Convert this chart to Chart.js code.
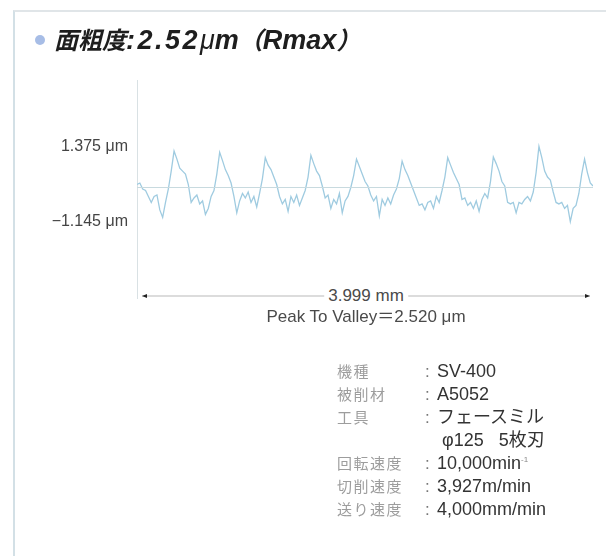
<!DOCTYPE html>
<html lang="ja">
<head>
<meta charset="utf-8">
<title>面粗度</title>
<script src="https://cdn.jsdelivr.net/npm/chart.js@4/dist/chart.umd.min.js"></script>
<style>
  html, body { margin: 0; padding: 0; background: #fff; }
  #wrap { position: relative; width: 606px; height: 556px; overflow: hidden; background: #fff; }
  #frame { position: absolute; left: 13px; top: 10px; right: -4px; bottom: -4px;
           border-top: 2px solid #e0e5e8; border-left: 2px solid #d3e0e6; }
  #chart { position: absolute; left: 0; top: 0; }
  #title { position: absolute; left: 35px; top: 21px; font-family: "Liberation Sans", "Noto Sans CJK JP", sans-serif;
           font-weight: bold; font-style: italic; font-size: 27px; color: #1e1e1e; white-space: nowrap; }
  #title .cjk { font-size: 24px; }
  #title .num { letter-spacing: 2.5px; }
  #title .dot { display: inline-block; width: 10px; height: 10px; border-radius: 50%; background: #a7bde6;
                margin-right: 9px; vertical-align: 4px; }
  .xlab { position: absolute; font-family: "Liberation Sans", "Noto Sans CJK JP", sans-serif; color: #4a4a4a;
          font-size: 17px; white-space: nowrap; transform: translateX(-50%); }
  #len { background: #fff; padding: 0 4px; }
  #spec { position: absolute; left: 337px; top: 360px; border-collapse: collapse;
          font-family: "Liberation Sans", "Noto Sans CJK JP", sans-serif; font-size: 18px; }
  #spec td { padding: 0; height: 23px; line-height: 23px; white-space: nowrap; }
  #spec td.k { color: #9d9d9d; width: 88px; font-family: "Noto Sans CJK JP", sans-serif; font-size: 15px;
               letter-spacing: 1.5px; vertical-align: top; line-height: 22px; }
  #spec td.c { color: #777; width: 12px; font-size: 17px; }
  #spec td.v { color: #333; }
  #spec sup { font-size: 8px; line-height: 0; vertical-align: 7px; color: #888; }
</style>
</head>
<body>
<div id="wrap">
  <div id="frame"></div>
  <canvas id="chart" width="606" height="556"></canvas>
  <div id="title"><span class="dot"></span><span class="cjk">面粗度</span><span class="num">:2.52</span><span style="font-weight:normal">μ</span>m<span class="cjk">（</span>Rmax<span class="cjk">）</span></div>
  <div class="xlab" id="len">3.999 mm</div>
  <div class="xlab" id="ptv">Peak To Valley＝2.520 μm</div>
  <table id="spec">
    <tr><td class="k">機種</td><td class="c">:</td><td class="v">SV-400</td></tr>
    <tr><td class="k">被削材</td><td class="c">:</td><td class="v">A5052</td></tr>
    <tr><td class="k">工具</td><td class="c">:</td><td class="v">フェースミル</td></tr>
    <tr><td class="k"></td><td class="c"></td><td class="v">&nbsp;φ125&nbsp;&nbsp;&nbsp;5枚刃</td></tr>
    <tr><td class="k">回転速度</td><td class="c">:</td><td class="v">10,000min<sup>-1</sup></td></tr>
    <tr><td class="k">切削速度</td><td class="c">:</td><td class="v">3,927m/min</td></tr>
    <tr><td class="k">送り速度</td><td class="c">:</td><td class="v">4,000mm/min</td></tr>
  </table>
</div>
<script>
// Surface profile, sampled every 0.025 mm along the evaluation length (μm)
const SAMPLE_STEP_MM = 0.025;
const EVAL_LENGTH_MM = 3.999;
const PROFILE_UM = [
  0.10, 0.15, -0.05, -0.10, -0.30, -0.50, -0.30, -0.25, -0.75, -1.00, -0.50, -0.05, 0.55,
  1.22, 0.95, 0.65, 0.55, 0.45, 0.10, -0.50, -0.35, -0.25, -0.55, -0.45, -0.90, -0.70, -0.30, -0.10, 0.45,
  1.18, 0.90, 0.60, 0.40, 0.15, -0.30, -0.85, -0.45, -0.20, -0.35, -0.15, -0.50, -0.30, -0.65, -0.20, 0.30,
  1.00, 0.75, 0.60, 0.35, 0.10, -0.30, -0.55, -0.40, -0.80, -0.30, -0.50, -0.25, -0.60, -0.35, -0.10, 0.35,
  1.08, 0.80, 0.55, 0.40, 0.05, -0.35, -0.25, -0.70, -0.40, -0.55, -0.20, -0.85, -0.45, -0.30, 0.00, 0.40,
  0.95, 0.70, 0.45, 0.20, 0.05, -0.25, -0.45, -0.30, -0.95, -0.40, -0.60, -0.35, -0.55, -0.25, -0.05, 0.30,
  0.88, 0.60, 0.40, 0.15, -0.10, -0.35, -0.60, -0.55, -0.75, -0.50, -0.45, -0.70, -0.30, -0.50, -0.10, 0.35,
  1.00, 0.75, 0.50, 0.30, 0.10, -0.40, -0.35, -0.60, -0.50, -0.70, -0.45, -0.80, -0.40, -0.20, -0.35, 0.20,
  1.02, 0.80, 0.55, 0.20, 0.05, -0.50, -0.55, -0.50, -0.85, -0.50, -0.55, -0.40, -0.30, -0.45, -0.15, 0.50,
  1.375, 1.00, 0.55, 0.35, 0.25, -0.15, -0.50, -0.55, -0.50, -0.70, -0.60, -1.145, -0.70, -0.60, -0.20, 0.45,
  0.95, 0.50, 0.15
];
const PROFILE_END_UM = 0.05;
// Marked levels on the vertical axis: highest peak and deepest valley (μm)
const Y_TICKS = [1.375, -1.145];

const profile = PROFILE_UM.map((v, i) => ({ x: +(i * SAMPLE_STEP_MM).toFixed(3), y: v }));
profile.push({ x: EVAL_LENGTH_MM, y: PROFILE_END_UM });
const meanLine = [{ x: 0, y: 0 }, { x: EVAL_LENGTH_MM, y: 0 }];

const fmt = v => (v < 0 ? '\u2212' + Math.abs(v).toFixed(3) : v.toFixed(3)) + ' μm';

// Dimension arrow spanning the evaluation length under the plot
const lengthArrow = {
  id: 'lengthArrow',
  afterDraw(chart) {
    const { ctx, scales: { x } } = chart;
    const x0 = x.getPixelForValue(0) + 5, x1 = x.getPixelForValue(EVAL_LENGTH_MM) - 3;
    const y = 296;
    ctx.save();
    ctx.strokeStyle = '#b9b9b9';
    ctx.lineWidth = 1;
    ctx.beginPath(); ctx.moveTo(x0, y); ctx.lineTo(x1, y); ctx.stroke();
    ctx.fillStyle = '#222';
    [[x0, 1], [x1, -1]].forEach(([px, d]) => {
      ctx.beginPath();
      ctx.moveTo(px, y); ctx.lineTo(px + 5 * d, y - 2); ctx.lineTo(px + 5 * d, y + 2); ctx.closePath(); ctx.fill();
    });
    ctx.restore();
    const mid = (x0 + x1) / 2;
    const len = document.getElementById('len'), ptv = document.getElementById('ptv');
    len.style.left = mid + 'px'; len.style.top = (y - 10) + 'px';
    ptv.style.left = mid + 'px'; ptv.style.top = (y + 6) + 'px';
  }
};

new Chart(document.getElementById('chart'), {
  type: 'line',
  data: {
    datasets: [
      { data: meanLine, borderColor: '#c8dadf', borderWidth: 1, pointRadius: 0, tension: 0 },
      { data: profile, borderColor: '#9fcbe0', borderWidth: 1.3, pointRadius: 0, tension: 0 }
    ]
  },
  options: {
    responsive: false,
    animation: false,
    events: [],
    layout: { padding: { left: 0, right: 13, top: 80, bottom: 258 } },
    plugins: { legend: { display: false }, tooltip: { enabled: false }, title: { display: false } },
    scales: {
      x: { type: 'linear', min: 0, max: EVAL_LENGTH_MM, display: false },
      y: {
        type: 'linear', min: -3.7, max: 3.6,
        afterFit: s => { s.width = 137; },
        afterBuildTicks: s => { s.ticks = Y_TICKS.map(v => ({ value: v })); },
        grid: { display: false, drawTicks: false },
        border: { display: true, color: '#d9e1e4', width: 1 },
        ticks: {
          padding: 9, color: '#444',
          font: { family: '"Liberation Sans", sans-serif', size: 16 },
          callback: v => fmt(v)
        }
      }
    }
  },
  plugins: [lengthArrow]
});
</script>
</body>
</html>
